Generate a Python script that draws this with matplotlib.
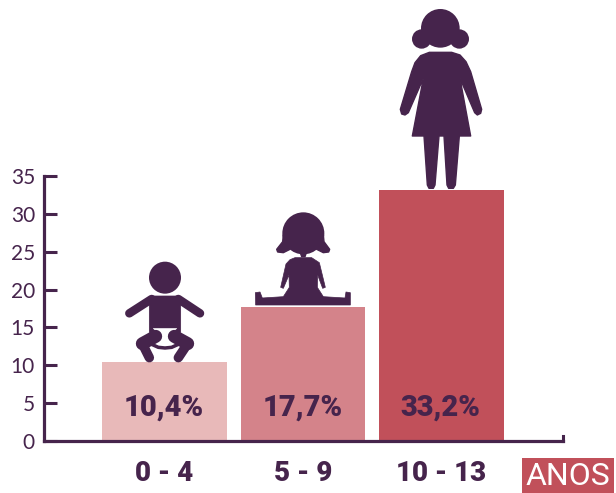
import matplotlib
matplotlib.use("Agg")
import matplotlib.pyplot as plt
from matplotlib.patches import Polygon, Circle, Rectangle

categories = ["0 - 4", "5 - 9", "10 - 13"]
values = [10.4, 17.7, 33.2]
value_labels = ["10,4%", "17,7%", "33,2%"]
y_ticks = [0, 5, 10, 15, 20, 25, 30, 35]
bar_colors = ["#e8b9b9", "#d4838a", "#c1505a"]
DARK = "#46244c"
W, H = 616, 493

fig = plt.figure(figsize=(W / 100, H / 100), dpi=100)
ax = fig.add_axes([44 / W, (H - 441) / H, (563 - 44) / W, 265 / H])
ax.set_ylim(0, 35)
ax.set_xlim((44 - 164.5) / 138.5, (563 - 164.5) / 138.5)
ax.bar(range(3), values, width=0.9, color=bar_colors, zorder=1)
for s in ("top", "right"):
    ax.spines[s].set_visible(False)
for s in ("left", "bottom"):
    ax.spines[s].set_color(DARK)
    ax.spines[s].set_linewidth(2.3)
    ax.spines[s].set_capstyle("projecting")
ax.set_yticks(y_ticks)
ax.tick_params(axis="y", direction="in", length=9.5, width=2.2, color=DARK, pad=6.5,
               labelsize=15, labelcolor=DARK)
for t in ax.get_yticklabels():
    t.set_family("Lato")
    t.set_fontweight("normal")
ax.set_xticks(range(3))
ax.set_xticklabels(categories, family="Roboto", fontweight="black", fontsize=20, color=DARK)
ax.tick_params(axis="x", length=0, pad=14)
ax.plot([1, 1], [0, 0.02], transform=ax.transAxes, color=DARK, lw=2.2, clip_on=False)
for i, lab in enumerate(value_labels):
    ax.text(i - 0.005, 4.4, lab, ha="center", va="center", family="Roboto", fontweight="black",
            fontsize=21, color=DARK, zorder=3)

# pixel-space overlay for the pictograms and the unit tag
ov = fig.add_axes([0, 0, 1, 1], zorder=5)
ov.set_xlim(0, W)
ov.set_ylim(H, 0)
ov.axis("off")
ov.patch.set_alpha(0)


def poly(ox, oy, pts, color=DARK, lw=1.0):
    ov.add_patch(Polygon([(ox + x / 3, oy + y / 3) for x, y in pts], closed=True, fc=color, ec=color,
                         lw=lw, joinstyle="round"))


def circ(ox, oy, x, y, r, color=DARK):
    ov.add_patch(Circle((ox + x / 3, oy + y / 3), r / 3, fc=color, ec="none"))


def line(ox, oy, pts, w, color=DARK):
    ov.plot([ox + x / 3 for x, _ in pts], [oy + y / 3 for _, y in pts], color=color, lw=w * 0.72,
            solid_capstyle="round", solid_joinstyle="round")


# woman
ox, oy = 380, 0
circ(ox, oy, 181, 85, 58)
circ(ox, oy, 125, 117, 29)
circ(ox, oy, 238, 117, 29)
poly(ox, oy, [(148, 157), (215, 157), (240, 165), (258, 185), (272, 215), (305, 328), (302, 340), (292, 345),
              (284, 338), (240, 235), (272, 408), (238, 408), (226, 555), (220, 565), (206, 565), (201, 555),
              (192, 408), (177, 408), (165, 555), (160, 565), (147, 565), (142, 555), (132, 408), (97, 408),
              (130, 235), (85, 338), (75, 345), (65, 342), (61, 328), (95, 215), (105, 188), (122, 167)])

# girl
ox, oy = 240, 200
circ(ox, oy, 190, 100, 63)
poly(ox, oy, [(130, 105), (128, 125), (110, 148), (113, 156), (130, 158), (150, 148)])
poly(ox, oy, [(250, 105), (252, 125), (269, 148), (266, 156), (250, 158), (230, 148)])
poly(ox, oy, [(180, 155), (200, 155), (195, 170), (185, 170)])
poly(ox, oy, [(165, 173), (215, 173), (238, 188), (256, 262), (248, 265), (233, 225), (232, 262), (250, 290),
              (315, 294), (318, 276), (331, 278), (331, 315), (47, 315), (46, 278), (60, 276), (67, 294),
              (130, 290), (148, 262), (147, 225), (130, 265), (122, 262), (138, 192), (150, 179)], lw=0.5)

# baby
ox, oy = 110, 255
circ(ox, oy, 165, 68, 48)
line(ox, oy, [(125, 132), (58, 175)], 8.5)
line(ox, oy, [(205, 132), (270, 175)], 8.5)
poly(ox, oy, [(125, 123), (205, 123), (212, 130), (212, 232), (118, 232), (118, 130)], lw=0.5)
line(ox, oy, [(137, 244), (97, 266)], 13)
line(ox, oy, [(193, 244), (233, 266)], 13)
line(ox, oy, [(97, 266), (118, 308)], 9.5)
line(ox, oy, [(233, 266), (205, 308)], 9.5)
poly(ox, oy, [(130, 220), (200, 220), (186, 238), (180, 266), (150, 266), (144, 238)], color="white", lw=0.3)
line(ox, oy, [(125, 268), (145, 277), (165, 279), (185, 277), (205, 268)], 3.5)

# unit tag
ov.add_patch(Rectangle((522, 457.5), 92, 35.5, fc="#c1505a", ec="none"))
ov.text(568, 476.5, "ANOS", ha="center", va="center", color="white", family="Roboto", fontweight="normal",
        fontsize=23)

fig.savefig("out.png", dpi=100)
